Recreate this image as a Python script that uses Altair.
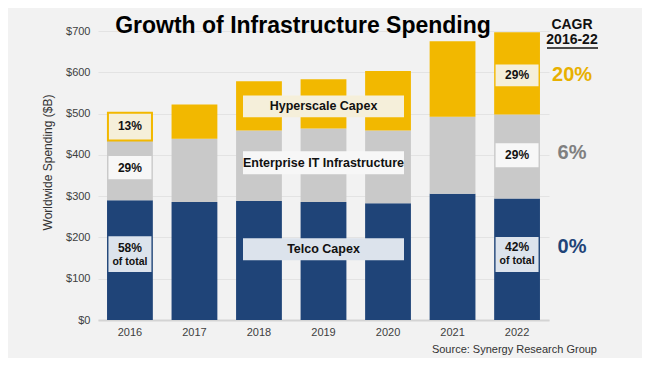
import altair as alt
import pandas as pd

years = ["2016", "2017", "2018", "2019", "2020", "2021", "2022"]
telco = [290, 286, 288, 286, 283, 306, 294]
enterprise = [145, 153, 171, 178, 176, 186, 204]
hyperscale = [67, 83, 119, 119, 144, 183, 199]
segments = ["Telco Capex", "Enterprise IT Infrastructure", "Hyperscale Capex"]
seg_colors = ["#1F4478", "#C9C9C9", "#F2B800"]

# small annotation boxes (year, low, high, fill)
sbox_year = ["2016", "2016", "2022", "2022", "2022"]
sbox_lo = [341, 116, 566, 370, 116]
sbox_hi = [397, 203, 619, 428, 201]
sbox_fill = ["#F7F7F7", "#DCE3EC", "#F5EFDA", "#F7F7F7", "#DCE3EC"]

# wide segment-name boxes
wbox_year = ["2019", "2019", "2019"]
wbox_lo = [491, 353, 145]
wbox_hi = [544, 409, 198]
wbox_fill = ["#F5EFDA", "#F7F7F7", "#DCE3EC"]
wbox_text_y = [518, 381, 172]

# percentage labels
pct_year = ["2016", "2016", "2016", "2022", "2022", "2022"]
pct_y = [469, 369, 175, 593, 399, 178]
pct_text = ["13%", "29%", "58%", "29%", "29%", "42%"]
oft_year = ["2016", "2022"]
oft_y = [141, 143]

# CAGR column
cagr_text = ["20%", "6%", "0%"]
cagr_y = [593, 404, 177]
cagr_colors = ["#E8B000", "#808080", "#1F4478"]

YTITLE = "Worldwide Spending ($B)"

rows = []
for i, yr in enumerate(years):
    for k, (s, vals) in enumerate(zip(segments, [telco, enterprise, hyperscale])):
        rows.append({"year": yr, "segment": s, "value": vals[i], "order": k})
df = pd.DataFrame(rows)

xscale = alt.Scale(domain=years, paddingInner=0.29, paddingOuter=0.14)
yscale = alt.Scale(domain=[0, 700], nice=False)

x_main = alt.X(
    "year:N", scale=xscale, sort=years, title=None,
    axis=alt.Axis(labelFontSize=11, labelColor="#404040", labelPadding=6,
                  ticks=False, domainColor="#D4D4D4", domainWidth=2, labelAngle=0, grid=False),
)

def xo(field="year"):
    return alt.X(f"{field}:N", scale=xscale, sort=years, title=None)

def yo(field):
    return alt.Y(f"{field}:Q", scale=yscale, title=YTITLE)

bars = alt.Chart(df).mark_bar().encode(
    x=x_main,
    y=alt.Y("value:Q", stack="zero", scale=yscale, title=YTITLE,
            axis=alt.Axis(values=list(range(0, 701, 100)), labelExpr="'$' + datum.value",
                          labelFontSize=11, labelColor="#404040", labelPadding=8,
                          ticks=False, domain=False, grid=True, gridColor="#E3E3E3",
                          titleFontSize=12, titleFontWeight="normal", titleColor="#333333",
                          titleX=-51, titleY=131, titleAngle=-90,
                          titleAlign="center", titleBaseline="middle")),
    color=alt.Color("segment:N", scale=alt.Scale(domain=segments, range=seg_colors), legend=None),
    order=alt.Order("order:Q"),
)

# 2016 hyperscale highlighted segment
hl_df = pd.DataFrame({"year": [years[0]],
                      "lo": [telco[0] + enterprise[0]],
                      "hi": [telco[0] + enterprise[0] + hyperscale[0]]})
hl = alt.Chart(hl_df).mark_bar(width=44, fill="#F5EFDA", stroke="#F2B800", strokeWidth=2).encode(
    x=xo(), y=yo("lo"), y2="hi")

sbox_df = pd.DataFrame({"year": sbox_year, "lo": sbox_lo, "hi": sbox_hi, "fill": sbox_fill})
sboxes = alt.Chart(sbox_df).mark_bar(width=43).encode(
    x=xo(), y=yo("lo"), y2="hi", fill=alt.Fill("fill:N", scale=None))

wbox_df = pd.DataFrame({"year": wbox_year, "lo": wbox_lo, "hi": wbox_hi, "fill": wbox_fill,
                        "ty": wbox_text_y, "label": segments[::-1]})
wboxes = alt.Chart(wbox_df).mark_bar(width=161).encode(
    x=xo(), y=yo("lo"), y2="hi", fill=alt.Fill("fill:N", scale=None))
wtext = alt.Chart(wbox_df).mark_text(fontSize=12.5, fontWeight="bold", color="#111111",
                                      baseline="middle").encode(
    x=xo(), y=yo("ty"), text="label:N")

pct_df = pd.DataFrame({"year": pct_year, "y": pct_y, "t": pct_text})
pct = alt.Chart(pct_df).mark_text(fontSize=12, fontWeight="bold", color="#111111",
                                  baseline="middle").encode(
    x=xo(), y=yo("y"), text="t:N")
oft_df = pd.DataFrame({"year": oft_year, "y": oft_y, "t": ["of total"] * len(oft_year)})
oft = alt.Chart(oft_df).mark_text(fontSize=10.5, fontWeight="bold", color="#111111",
                                  baseline="middle").encode(
    x=xo(), y=yo("y"), text="t:N")

cagr_df = pd.DataFrame({"year": [years[-1]] * 3, "y": cagr_y, "t": cagr_text, "c": cagr_colors})
cagr = alt.Chart(cagr_df).mark_text(fontSize=20, fontWeight="bold", baseline="middle", dx=55).encode(
    x=xo(), y=yo("y"), text="t:N", color=alt.Color("c:N", scale=None))

hdr_df = pd.DataFrame({"t": ["CAGR", "2016-22"], "py": [-6, 9]})
hdr = alt.Chart(hdr_df).mark_text(fontSize=14, fontWeight="bold", color="#111111",
                                  baseline="middle").encode(
    x=alt.value(474), y=alt.Y("py:Q", scale=None), text="t:N")
uline = alt.Chart(pd.DataFrame({"a": [0]})).mark_rule(color="#111111", strokeWidth=1.3).encode(
    x=alt.value(449), x2=alt.value(500), y=alt.value(17))

title = alt.Chart(pd.DataFrame({"t": ["Growth of Infrastructure Spending"]})).mark_text(
    fontSize=23, fontWeight="bold", color="#000000", baseline="alphabetic").encode(
    x=alt.value(205), y=alt.value(1.5), text="t:N")

source = alt.Chart(pd.DataFrame({"t": ["Source: Synergy Research Group"]})).mark_text(
    fontSize=11, color="#333333", align="right", baseline="middle").encode(
    x=alt.value(499), y=alt.value(319), text="t:N")

chart = alt.layer(bars, hl, sboxes, wboxes, wtext, pct, oft, cagr, hdr, uline, title, source).properties(
    width=451, height=289,
    autosize=alt.AutoSizeParams(type="none"),
    padding={"left": 90, "top": 23, "right": 93, "bottom": 38},
    background="#F2F2F2",
).configure(font="Liberation Sans").configure_view(stroke=None)

chart.save("out.html", embed_options={"renderer": "svg", "actions": False})
